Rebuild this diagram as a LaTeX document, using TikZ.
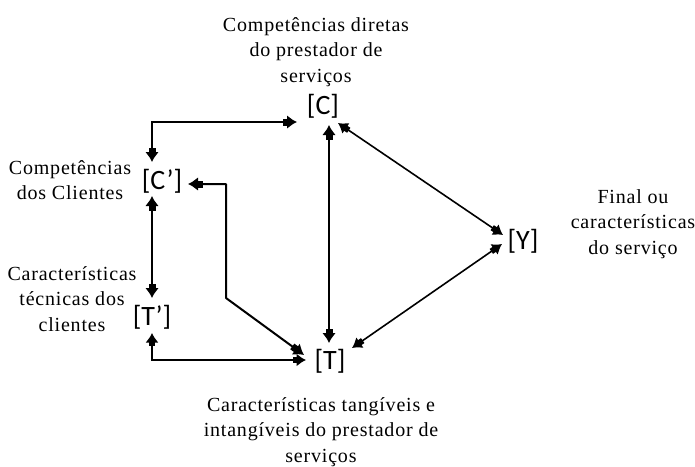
\documentclass[tikz,border=0pt]{standalone}
\usepackage{fontspec}
\setmainfont{Liberation Serif}[LetterSpace=4]
\newfontfamily\lblfont{Carlito}
\usetikzlibrary{arrows.meta,calc}
\tikzset{
  bigtip/.tip={Rectangle[length=6pt,width=7pt,sep=-1.5pt]Latex[length=10pt,width=14pt]},
  smalltip/.tip={Rectangle[length=5pt,width=6pt,sep=-1.5pt]Latex[length=9.5pt,width=13pt]},
  lbl/.style={font=\lblfont\fontsize{28}{30}\selectfont, inner sep=0pt},
  desc/.style={font=\fontsize{20}{25.5}\selectfont, align=center, inner sep=0pt},
  thickarr/.style={line width=2.6pt, {bigtip}-{bigtip}},
  midarr/.style={line width=2pt, line join=round, {bigtip}-{bigtip}},
  thinarr/.style={line width=1.6pt, {smalltip}-{smalltip}},
}
\begin{document}
\begin{tikzpicture}[x=1pt,y=-1pt]
\useasboundingbox (0,0) rectangle (695,466);
\fill[white] (0,0) rectangle (695,466);
% bracket labels
\node[lbl] (C)  at (323,106) {[C]};
\node[lbl] (Cp) at (162,181) {[C’]};
\node[lbl] (Tp) at (152,317) {[T’]};
\node[lbl] (T)  at (330,361) {[T]};
\node[lbl] (Y)  at (523,241) {[Y]};
% descriptions
\node[desc] (dC)  at (316,52)  {Competências diretas\\do prestador de\\serviços};
\node[desc] (dCp) at (70,180)  {Competências\\dos Clientes};
\node[desc] (dTp) at (72,299)  {Características\\técnicas dos\\clientes};
\node[desc] (dY)  at (633,224) {Final ou\\características\\do serviço};
\node[desc] (dT)  at (321,432) {Características tangíveis e\\intangíveis do prestador de\\serviços};
% connectors
\draw[thickarr] ($(Cp)+(-10,-19)$) |- ($(C)+(-26,16)$);
\draw[thickarr] ($(Cp)+(-10,15)$) -- ($(Tp)+(0,-19)$);
\draw[thinarr] ($(Tp)+(0,16)$) |- ($(T)+(-24,-1)$);
\draw[midarr] ($(Cp)+(26,3)$) -- (226,184) -- (226,298) -- ($(T)+(-26,-6)$);
\draw[thickarr] ($(C)+(6,19)$) -- ($(T)+(-1,-18)$);
\draw[thinarr] ($(C)+(15,17)$) -- ($(Y)+(-20,-6)$);
\draw[thinarr] ($(Y)+(-21,3)$) -- ($(T)+(22,-13)$);
\end{tikzpicture}
\end{document}
